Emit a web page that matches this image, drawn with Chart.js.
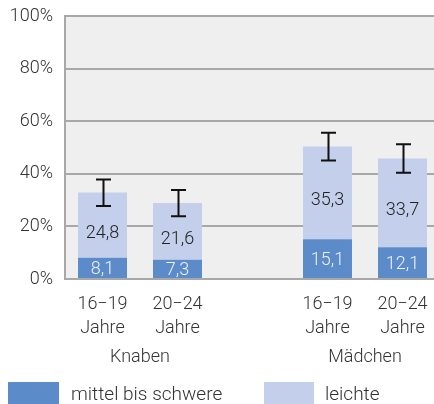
<!DOCTYPE html>
<html>
<head>
<meta charset="utf-8">
<script src="https://cdn.jsdelivr.net/npm/chart.js@4"></script>
<style>
html,body{margin:0;padding:0;background:#fff;overflow:hidden;width:434px;height:404px;}
#wrap{position:relative;width:434px;height:404px;overflow:hidden;}
canvas{position:absolute;left:0;top:0;}
.lb{position:absolute;height:22px;}
.lt{position:absolute;font-family:Roboto,"Noto Sans",sans-serif;font-weight:300;font-size:19px;color:#333;line-height:22px;top:383px;}
</style>
</head>
<body>
<div id="wrap">
<canvas id="c" width="440" height="404"></canvas>
<div class="lb" style="left:8px;top:382px;width:51px;background:#5b8bc9;"></div>
<div class="lt" style="left:71px;">mittel bis schwere</div>
<div class="lb" style="left:264px;top:382px;width:50px;background:#c4cfec;"></div>
<div class="lt" style="left:325px;">leichte</div>
</div>
<script>
const categories = [["16−19","Jahre"],["20−24","Jahre"],"",["16−19","Jahre"],["20−24","Jahre"]];
const groups = ["Knaben","Mädchen"];
const seriesNames = ["mittel bis schwere","leichte"];
const moderateSevere = [8.1, 7.3, null, 15.1, 12.1];
const mild = [24.8, 21.6, null, 35.3, 33.7];
const errLow = [27.8, 23.9, null, 45.1, 40.4];
const errHigh = [37.8, 33.8, null, 55.6, 51.2];
const yTicks = [0,20,40,60,80,100];

const FONT = 'Roboto, "Noto Sans", sans-serif';
const FS = 18;
const fmt = v => v.toFixed(1).replace('.', ',');

const bgPlugin = {
  id: 'bg',
  beforeDraw(chart) {
    const {ctx, chartArea:a} = chart;
    ctx.save();
    ctx.fillStyle = '#efefef';
    ctx.fillRect(a.left, a.top, a.right - a.left, a.bottom - a.top);
    ctx.restore();
  }
};

const labelPlugin = {
  id: 'vals',
  afterDatasetsDraw(chart) {
    const ctx = chart.ctx;
    ctx.save();
    ctx.font = '300 ' + FS + 'px ' + FONT;
    ctx.textAlign = 'center';
    ctx.textBaseline = 'middle';
    chart.data.datasets.forEach((ds, di) => {
      const meta = chart.getDatasetMeta(di);
      meta.data.forEach((bar, i) => {
        const v = ds.data[i];
        if (v == null) return;
        ctx.fillStyle = di === 0 ? '#eef2fa' : '#222';
        ctx.fillText(fmt(v), bar.x, (bar.y + bar.base) / 2 + (di === 0 ? 2 : 8));
      });
    });
    // error bars
    const y = chart.scales.y, x = chart.scales.x;
    ctx.strokeStyle = '#111';
    ctx.lineWidth = 2;
    errLow.forEach((lo, i) => {
      if (lo == null) return;
      const cx = Math.round(x.getPixelForValue(i)) + 0.5;
      const y1 = y.getPixelForValue(lo), y2 = y.getPixelForValue(errHigh[i]);
      ctx.beginPath();
      ctx.moveTo(cx, y1); ctx.lineTo(cx, y2);
      ctx.moveTo(cx - 7.5, y1); ctx.lineTo(cx + 7.5, y1);
      ctx.moveTo(cx - 7.5, y2); ctx.lineTo(cx + 7.5, y2);
      ctx.stroke();
    });
    ctx.restore();
  },
  afterDraw(chart) {
    const ctx = chart.ctx, x = chart.scales.x;
    ctx.save();
    ctx.font = '300 ' + FS + 'px ' + FONT;
    ctx.fillStyle = '#333';
    ctx.textAlign = 'center';
    ctx.textBaseline = 'middle';
    ctx.fillText(groups[0], (x.getPixelForValue(0) + x.getPixelForValue(1)) / 2, 357);
    ctx.fillText(groups[1], (x.getPixelForValue(3) + x.getPixelForValue(4)) / 2, 357);
    ctx.restore();
  }
};

new Chart(document.getElementById('c'), {
  type: 'bar',
  data: {
    labels: categories,
    datasets: [
      {label: seriesNames[0], data: moderateSevere, backgroundColor: '#5b8bc9', borderWidth: 0},
      {label: seriesNames[1], data: mild, backgroundColor: '#c4cfec', borderWidth: 0}
    ]
  },
  options: {
    responsive: false,
    animation: false,
    devicePixelRatio: 1,
    layout: {padding: {top: 16, left: 0, right: 0, bottom: 0}},
    datasets: {bar: {categoryPercentage: 1, barPercentage: 0.653}},
    plugins: {legend: {display: false}, tooltip: {enabled: false}},
    scales: {
      x: {
        stacked: true,
        grid: {display: false},
        border: {display: false},
        ticks: {color: '#333', font: {family: FONT, size: FS, weight: 300, lineHeight: 1.3}, padding: 6, maxRotation: 0, autoSkip: false},
        afterFit(s) { s.height = 125; }
      },
      y: {
        stacked: true,
        min: 0, max: 100,
        afterBuildTicks(s) { s.ticks = yTicks.map(v => ({value: v})); },
        grid: {color: '#a8a8a8', lineWidth: 2, drawTicks: false},
        border: {color: '#a8a8a8', width: 2},
        ticks: {color: '#333', font: {family: FONT, size: FS, weight: 300, lineHeight: 0.3}, padding: 12, callback: v => v + '%'},
        afterFit(s) { s.width = 65; }
      }
    }
  },
  plugins: [bgPlugin, labelPlugin]
});
</script>
</body>
</html>
